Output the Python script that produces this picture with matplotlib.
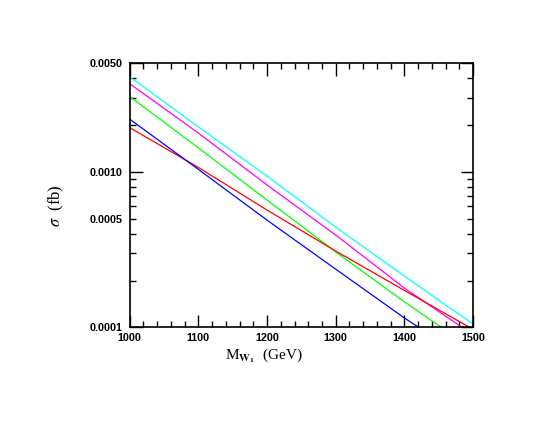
import matplotlib
matplotlib.use('Agg')
from matplotlib import pyplot as plt
from matplotlib.ticker import FixedLocator, MultipleLocator, FuncFormatter

# masses (GeV) and cross sections (fb)
mass = [1000, 1100, 1200, 1300, 1400, 1500]
sigma_cyan = [0.00411, 0.00195, 0.000942, 0.000442, 0.000214, 0.000105]
sigma_magenta = [0.00370, 0.00178, 0.000825, 0.000393, 0.000179, 0.0000896]
sigma_green = [0.00306, 0.00143, 0.000660, 0.000306, 0.000146, 0.0000724]
sigma_red = [0.00193, 0.00107, 0.000569, 0.000310, 0.000173, 0.0000972]
sigma_blue = [0.00219, 0.00104, 0.000490, 0.000237, 0.000115, 0.0000589]

y_major = [0.0001, 0.001, 0.005]
y_minor = [0.0002, 0.0003, 0.0004, 0.0005, 0.0006, 0.0007, 0.0008, 0.0009,
           0.002, 0.003, 0.004]

plt.rcParams['mathtext.fontset'] = 'stix'

fig = plt.figure(figsize=(5.54, 4.28), dpi=100)
ax = fig.add_axes([0.234, 0.235, 0.620, 0.617])

lw = 0.9
ax.plot(mass, sigma_cyan, color='#00ffff', lw=lw)
ax.plot(mass, sigma_magenta, color='#ff00ff', lw=lw)
ax.plot(mass, sigma_green, color='#00ff00', lw=lw)
ax.plot(mass, sigma_red, color='#ff0000', lw=lw)
ax.plot(mass, sigma_blue, color='#0000ff', lw=lw)

ax.set_yscale('log')
ax.set_xlim(1000, 1500)
ax.set_ylim(0.0001, 0.005)

# ticks
ax.xaxis.set_major_locator(MultipleLocator(100))
ax.xaxis.set_minor_locator(MultipleLocator(20))
ax.yaxis.set_major_locator(FixedLocator(y_major))
ax.yaxis.set_minor_locator(FixedLocator(y_minor))
ax.yaxis.set_major_formatter(FuncFormatter(lambda v, p: '%.4f' % v))
ax.yaxis.set_minor_formatter(FuncFormatter(
    lambda v, p: '0.0005' if abs(v - 0.0005) < 1e-9 else ''))
ax.xaxis.set_major_formatter(FuncFormatter(lambda v, p: '%d' % v))

ax.tick_params(which='both', direction='in', top=True, right=True,
               width=1.0, colors='black')
ax.tick_params(which='major', length=9)
ax.tick_params(which='minor', length=4)
ax.tick_params(axis='y', which='both', pad=5)
ax.tick_params(axis='x', which='both', pad=4)

for lab in ax.get_xticklabels() + ax.get_yticklabels() + ax.get_yticklabels(minor=True):
    lab.set_fontfamily('Liberation Sans')
    lab.set_fontweight('bold')
    lab.set_fontsize(7.8)

for sp in ax.spines.values():
    sp.set_linewidth(1.2)

# axis titles sit a bit off-centre in the original
ax.set_xlabel(r'M$_{\mathbf{W_1}}$  (GeV)', family='Liberation Serif',
              fontsize=11)
ax.xaxis.set_label_coords(0.391, -0.075)
ax.set_ylabel(r'$\sigma$  (fb)', family='Liberation Serif', fontsize=12)
ax.yaxis.set_label_coords(-0.186, 0.463)

plt.savefig('out.png', dpi=100)
